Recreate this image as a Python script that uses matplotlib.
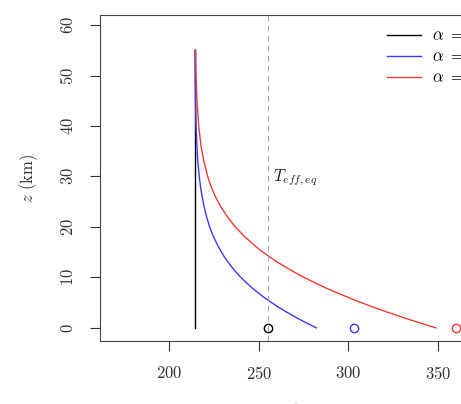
import matplotlib
matplotlib.use("Agg")
import matplotlib.pyplot as plt

plt.rcParams['font.family'] = 'serif'
plt.rcParams['font.serif'] = ['cmr10', 'DejaVu Serif']
plt.rcParams['mathtext.fontset'] = 'cm'
plt.rcParams['axes.formatter.use_mathtext'] = True

# heights (km) at which the profiles were read
z = [0, 1, 2, 3, 4, 5, 6, 7, 8, 9, 10, 11, 12, 13, 14, 15, 16, 18, 20, 22, 24,
     26, 28, 30, 33, 36, 40, 45, 50, 55]

# air temperature profiles (K)
T_skin = 214.4
T_blue = [282.2, 276.5, 271.2, 266.2, 261.5, 257.2, 253.2, 249.5, 246.1, 243.0,
          240.1, 237.5, 235.2, 233.0, 231.0, 229.3, 227.7, 224.9, 222.7, 221.0,
          219.6, 218.5, 217.6, 216.9, 216.1, 215.6, 215.1, 214.8, 214.6, 214.5]
T_red = [348.8, 339.7, 330.9, 322.6, 314.7, 307.2, 300.1, 293.3, 286.9, 281.0,
         275.3, 270.1, 265.2, 260.6, 256.4, 252.4, 248.8, 242.4, 237.0, 232.6,
         228.9, 225.9, 223.5, 221.6, 219.5, 217.9, 216.6, 215.6, 215.1, 214.8]

# surface temperatures (K)
Ts = [255.0, 303.0, 360.0]
T_eff = 255.0

labels = [r'$\alpha\ =\ 0$', r'$\alpha\ =\ 2$', r'$\alpha\ =\ 6$']
colors = ['k', '#3a3af0', '#f03a3a']

fig = plt.figure(figsize=(4.61, 4.04), dpi=100)
# axes runs past the right edge (the reference is a crop)
ax = fig.add_axes([100 / 461, 63 / 404, 392 / 461, 326 / 404])

ax.plot([T_skin, T_skin], [z[0], z[-1]], color=colors[0], lw=1, label=labels[0])
ax.plot(T_blue, z, color=colors[1], lw=1, label=labels[1])
ax.plot(T_red, z, color=colors[2], lw=1, label=labels[2])

for t, c in zip(Ts, colors):
    ax.plot(t, 0, 'o', mfc='none', mec=c, ms=6, mew=1)

ax.axvline(T_eff, color='#aaaaaa', ls=(0, (5, 4)), lw=0.8)
ax.text(T_eff + 3, 29.7, r'$T_{eff,eq}$', fontsize=12, va='center', color='#222222')

ax.set_xlim(161.6, 380)
ax.set_ylim(-2.6, 62)
ax.set_xticks([200, 250, 300, 350])
ax.set_yticks([0, 10, 20, 30, 40, 50, 60])
ax.tick_params(direction='out', length=7, width=0.8, labelsize=12, colors='#333333', pad=10)
for lab in ax.get_yticklabels():
    lab.set_rotation(90)
    lab.set_va('center')
for s in ax.spines.values():
    s.set_color('#444444')
    s.set_linewidth(0.8)

ax.set_xlabel(r'$T$ (K)', fontsize=12, color='#333333', labelpad=14)
ax.set_ylabel(r'$z$ (km)', fontsize=12, color='#333333', labelpad=14)

ax.legend(loc='upper left', bbox_to_anchor=(0.695, 1.008), frameon=False, fontsize=12,
          handlelength=2.0, handletextpad=0.65, labelspacing=0.3)

fig.savefig('out.png', dpi=100)
